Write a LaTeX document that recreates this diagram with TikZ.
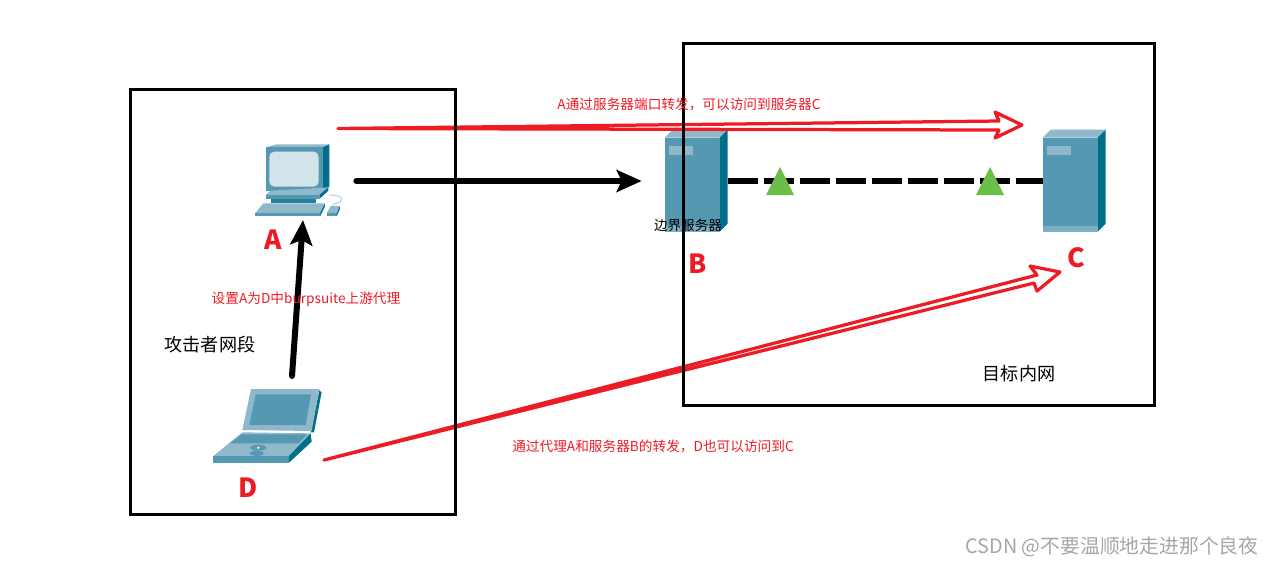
\documentclass[tikz,border=0pt]{standalone}
\usepackage{fontspec}
\setmainfont{Noto Sans CJK SC}
\usepackage{xcolor}
\usetikzlibrary{arrows.meta,positioning,calc}
\definecolor{cisco}{HTML}{5499B1}
\definecolor{ciscolt}{HTML}{8FB9CB}
\definecolor{ciscodk}{HTML}{006F8A}
\definecolor{scrn}{HTML}{D3E3EA}
\definecolor{redline}{HTML}{ED1C24}
\definecolor{tri}{HTML}{6ABF4B}
\tikzset{
  netbox/.style={draw, line width=.06cm, inner sep=0pt},
  hostbox/.style={inner sep=0pt},
  hosttag/.style={text=redline, font=\fontsize{15}{17}\selectfont\bfseries},
  redtxt/.style={text=redline, font=\fontsize{7.78}{9}\selectfont},
  blktxt/.style={font=\fontsize{10.3}{12}\selectfont},
  thick arrow/.style={line width=.12cm, line cap=round, -{Stealth[length=.5cm,width=.44cm,inset=.1cm]}},
  hollow arrow/.style={draw=redline, fill=white, line width=.065cm, line join=round},
  pics/server/.style={code={
    \fill[ciscolt] (0,8) -- (8,0) -- (63,0) -- (55,8) -- cycle;
    \fill[ciscodk] (55,8) -- (63,0) -- (63,94) -- (55,102) -- cycle;
    \fill[cisco] (0,8) rectangle (55,102);
    \fill[ciscolt] (4,16) rectangle (28,25);
    \fill[ciscolt!70!cisco] (0,96) rectangle (55,102);
  }}
}

\begin{document}
\begin{tikzpicture}[x=.02cm,y=-.02cm]
  \useasboundingbox (0,0) rectangle (1274,566);

  \node[hostbox, minimum width=1.7cm, minimum height=1.44cm] (pcA) at (297.5,181) {};
  \node[hostbox, minimum width=2.16cm, minimum height=1.52cm] (lapD) at (267,427) {};
  \node[hostbox, minimum width=1.26cm, minimum height=2.04cm] (srvB) at (696.5,181) {};
  \node[hostbox, minimum width=1.26cm, minimum height=2.04cm] (srvC) at (1074.5,181) {};

  % pc
  \begin{scope}[shift={(230,130)},x=.00667cm,y=-.00667cm]
    \draw[ciscolt!70, line width=.02cm] (298,195) .. controls (345,195) and (345,215) .. (312,222) -- (308,230);
    \fill[ciscolt] (107,52) -- (140,43) -- (298,43) -- (278,52) -- cycle;
    \fill[ciscodk] (278,52) -- (298,43) -- (298,170) -- (278,185) -- cycle;
    \fill[cisco] (107,52) rectangle (278,182);
    \fill[scrn] (118,65) [rounded corners=.1cm] rectangle (266,170);
    \fill[ciscolt] (107,195) -- (122,182) -- (295,172) -- (270,195) -- cycle;
    \fill[cisco] (107,195) rectangle (268,207);
    \fill[ciscodk] (268,195) -- (295,172) -- (295,182) -- (268,207) -- cycle;
    \fill[ciscodk!60!cisco] (122,207) rectangle (258,218);
    \fill[ciscolt] (75,250) -- (100,220) -- (285,220) -- (270,250) -- cycle;
    \fill[cisco] (75,250) rectangle (270,259);
    \fill[ciscodk] (270,250) -- (285,220) -- (285,230) -- (270,259) -- cycle;
    \fill[ciscolt] (290,250) -- (302,228) -- (330,228) -- (320,250) -- cycle;
    \fill[cisco] (290,250) rectangle (320,259);
    \fill[ciscodk] (320,250) -- (330,228) -- (330,237) -- (320,259) -- cycle;
  \end{scope}

  % laptop
  \begin{scope}[shift={(190,375)},x=.00667cm,y=-.00667cm]
    \fill[ciscodk] (388,46) -- (395,52) -- (372,172) -- (362,172) -- cycle;
    \fill[ciscolt] (183,42) -- (388,42) -- (365,168) -- (157,165) -- cycle;
    \fill[cisco] (197,58) -- (363,58) -- (347,150) -- (178,150) -- cycle;
    \fill[ciscolt] (70,243) -- (157,172) -- (362,175) -- (297,243) -- cycle;
    \fill[cisco] (120,205) -- (155,178) -- (352,178) -- (325,205) -- cycle;
    \fill[cisco] (70,243) rectangle (297,263);
    \fill[ciscodk] (297,243) -- (362,175) -- (365,200) -- (297,263) -- cycle;
    \fill[cisco] (205,218) ellipse [x radius=.16cm, y radius=.06cm];
    \fill[cisco] (200,235) ellipse [x radius=.14cm, y radius=.05cm];
    \fill[scrn] (205,218) circle (.03cm);
  \end{scope}

  \pic at (srvB.north west) {server};
  \pic at (srvC.north west) {server};

  % links
  \draw[line width=.12cm, dash pattern=on .6cm off .12cm] (srvB.east) -- (srvC.west);
  \fill[tri] (766,195) -- (780,167) -- (794,195) -- cycle;
  \fill[tri] (976,195) -- (990,167) -- (1004,195) -- cycle;

  \coordinate (tailA) at (338,128.5);
  \coordinate (tailD) at (324,460);
  \draw[hollow arrow] (tailA) -- (999,121) -- (995,112) -- (1022,125) -- (995,138) -- (999,130) -- cycle;
  \draw[hollow arrow] (tailD) -- (1037,275) -- (1030,266) -- (1060,272) -- (1037,291) -- (1034,283) -- cycle;

  \draw[thick arrow, shorten <=.32cm, shorten >=.46cm] (pcA.east) -- (srvB.west);
  \coordinate (upD) at (292,376);
  \coordinate (upA) at (303,220);
  \draw[thick arrow] (upD) -- (upA);

  % frames
  \node[netbox, minimum width=6.52cm, minimum height=8.52cm] (atknet) at (293,302) {};
  \node[netbox, minimum width=9.44cm, minimum height=7.26cm] (tgtnet) at (919,224.5) {};

  % labels
  \node[hosttag] (tagA) at (273,240) {A};
  \node[hosttag] (tagB) at (698,264) {B};
  \node[hosttag] (tagC) at (1076,258) {C};
  \node[hosttag] (tagD) at (248,488) {D};
  \node[redtxt] (txtAC) at (689,104) {A通过服务器端口转发，可以访问到服务器C};
  \node[redtxt] (txtDA) at (306,299.5) {设置A为D中burpsuite上游代理};
  \node[redtxt] (txtDC) at (653,446) {通过代理A和服务器B的转发，D也可以访问到C};
  \node[blktxt] (txtatk) at (210,345) {攻击者网段};
  \node[blktxt] (txttgt) at (1019,374) {目标内网};
  \node[font=\fontsize{7.7}{9}\selectfont] (txtB) at (688,225) {边界服务器};
  \node[text=black!35, font=\fontsize{11.27}{13}\selectfont] (mark) at (1112,547) {CSDN @不要温顺地走进那个良夜};
\end{tikzpicture}
\end{document}
